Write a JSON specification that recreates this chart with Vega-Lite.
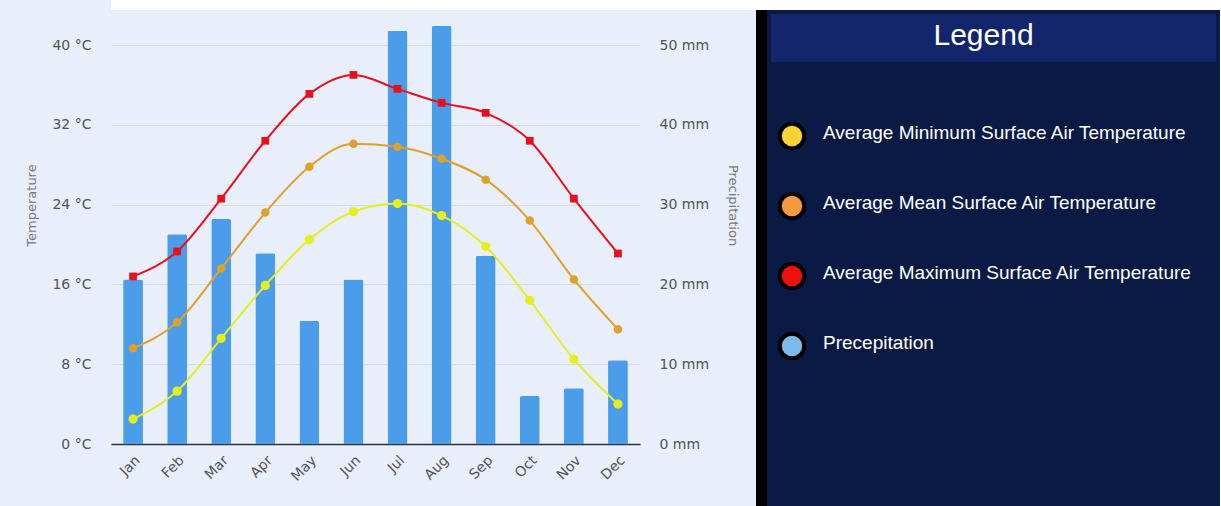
{
  "$schema": "https://vega.github.io/schema/vega-lite/v6.json",
  "background": "#e8eefa",
  "padding": {"left": 25, "top": 0, "right": 0, "bottom": 0},
  "config": {"view": {"stroke": null}, "font": "DejaVu Sans"},
  "datasets": {
    "precip": [
      {"m": "Jan", "mm": 20.6}, {"m": "Feb", "mm": 26.3}, {"m": "Mar", "mm": 28.2},
      {"m": "Apr", "mm": 23.9}, {"m": "May", "mm": 15.4}, {"m": "Jun", "mm": 20.6},
      {"m": "Jul", "mm": 51.8}, {"m": "Aug", "mm": 52.4}, {"m": "Sep", "mm": 23.6},
      {"m": "Oct", "mm": 6.0}, {"m": "Nov", "mm": 7.0}, {"m": "Dec", "mm": 10.5}
    ],
    "temps": [
      {"m": "Jan", "s": "Max", "t": 16.8}, {"m": "Feb", "s": "Max", "t": 19.3}, {"m": "Mar", "s": "Max", "t": 24.6},
      {"m": "Apr", "s": "Max", "t": 30.4}, {"m": "May", "s": "Max", "t": 35.1}, {"m": "Jun", "s": "Max", "t": 37.0},
      {"m": "Jul", "s": "Max", "t": 35.6}, {"m": "Aug", "s": "Max", "t": 34.2}, {"m": "Sep", "s": "Max", "t": 33.2},
      {"m": "Oct", "s": "Max", "t": 30.4}, {"m": "Nov", "s": "Max", "t": 24.6}, {"m": "Dec", "s": "Max", "t": 19.1},
      {"m": "Jan", "s": "Mean", "t": 9.6}, {"m": "Feb", "s": "Mean", "t": 12.2}, {"m": "Mar", "s": "Mean", "t": 17.6},
      {"m": "Apr", "s": "Mean", "t": 23.2}, {"m": "May", "s": "Mean", "t": 27.8}, {"m": "Jun", "s": "Mean", "t": 30.1},
      {"m": "Jul", "s": "Mean", "t": 29.8}, {"m": "Aug", "s": "Mean", "t": 28.6}, {"m": "Sep", "s": "Mean", "t": 26.5},
      {"m": "Oct", "s": "Mean", "t": 22.4}, {"m": "Nov", "s": "Mean", "t": 16.5}, {"m": "Dec", "s": "Mean", "t": 11.5},
      {"m": "Jan", "s": "Min", "t": 2.5}, {"m": "Feb", "s": "Min", "t": 5.3}, {"m": "Mar", "s": "Min", "t": 10.6},
      {"m": "Apr", "s": "Min", "t": 15.9}, {"m": "May", "s": "Min", "t": 20.5}, {"m": "Jun", "s": "Min", "t": 23.3},
      {"m": "Jul", "s": "Min", "t": 24.1}, {"m": "Aug", "s": "Min", "t": 22.9}, {"m": "Sep", "s": "Min", "t": 19.8},
      {"m": "Oct", "s": "Min", "t": 14.4}, {"m": "Nov", "s": "Min", "t": 8.5}, {"m": "Dec", "s": "Min", "t": 4.0}
    ],
    "legend": [
      {"series": "Average Minimum Surface Air Temperature"},
      {"series": "Average Mean Surface Air Temperature"},
      {"series": "Average Maximum Surface Air Temperature"},
      {"series": "Precepitation"}
    ]
  },
  "spacing": 0,
  "vconcat": [
    {
      "width": 1109,
      "height": 10,
      "data": {"values": [{}]},
      "mark": {"type": "rect", "color": "#ffffff"},
      "encoding": {}
    },
    {
      "spacing": 17,
      "hconcat": [
        {
          "width": 529,
          "height": 434,
          "layer": [
            {
              "data": {"name": "precip"},
              "mark": {"type": "bar", "color": "#4b9de9", "cornerRadiusTopLeft": 2, "cornerRadiusTopRight": 2},
              "encoding": {
                "x": {
                  "field": "m", "type": "nominal",
                  "sort": ["Jan","Feb","Mar","Apr","May","Jun","Jul","Aug","Sep","Oct","Nov","Dec"],
                  "scale": {"paddingInner": 0.55, "paddingOuter": 0.275},
                  "axis": {
                    "title": null, "labelAngle": -45, "labelFontSize": 14, "labelColor": "#555555",
                    "ticks": false, "tickSize": 0, "labelPadding": 9,
                    "domainColor": "#333333", "domainWidth": 1.5, "grid": false
                  }
                },
                "y": {
                  "field": "mm", "type": "quantitative",
                  "scale": {"domain": [0, 54.39], "nice": false},
                  "axis": {
                    "orient": "right", "title": "Precipitation", "values": [0, 10, 20, 30, 40, 50],
                    "labelExpr": "datum.value + ' mm'", "grid": false, "domain": false,
                    "ticks": false, "tickSize": 0, "labelPadding": 19, "labelFontSize": 14,
                    "labelColor": "#555555", "titleColor": "#777777", "titleFontSize": 13,
                    "titleFontWeight": "normal", "titlePadding": 17, "titleY": 195
                  }
                }
              }
            },
            {
              "data": {"name": "temps"},
              "encoding": {
                "x": {"field": "m", "type": "nominal", "sort": ["Jan","Feb","Mar","Apr","May","Jun","Jul","Aug","Sep","Oct","Nov","Dec"]},
                "y": {
                  "field": "t", "type": "quantitative",
                  "scale": {"domain": [0, 43.51], "nice": false},
                  "axis": {
                    "orient": "left", "title": "Temperature", "values": [0, 8, 16, 24, 32, 40],
                    "labelExpr": "datum.value + ' °C'", "grid": true, "gridColor": "#d5dbe6",
                    "domain": false, "ticks": false, "tickSize": 0, "labelPadding": 20, "labelFontSize": 14,
                    "labelColor": "#555555", "titleColor": "#777777", "titleFontSize": 13,
                    "titleFontWeight": "normal", "titlePadding": 13, "titleY": 195
                  }
                },
                "color": {
                  "field": "s", "type": "nominal",
                  "scale": {"domain": ["Min", "Mean", "Max"], "range": ["#e6ef1e", "#dfa02c", "#e8111b"]},
                  "legend": null
                }
              },
              "layer": [
                {"mark": {"type": "line", "interpolate": "monotone", "strokeWidth": 2}},
                {
                  "mark": {"type": "point", "filled": true, "opacity": 1},
                  "encoding": {
                    "shape": {"field": "s", "type": "nominal", "scale": {"domain": ["Min", "Mean", "Max"], "range": ["circle", "circle", "square"]}, "legend": null},
                    "size": {"field": "s", "type": "nominal", "scale": {"domain": ["Min", "Mean", "Max"], "range": [85, 60, 110]}, "legend": null}
                  }
                }
              ]
            }
          ],
          "resolve": {"scale": {"y": "independent"}}
        },
        {
          "spacing": 0,
          "hconcat": [
            {
              "width": 11,
              "height": 496,
              "data": {"values": [{}]},
              "mark": {"type": "rect", "color": "#000000"},
              "encoding": {}
            },
            {
              "spacing": 0,
              "vconcat": [
                {
                  "width": 453,
                  "height": 56,
                  "data": {"values": [{"t": "Legend"}]},
                  "layer": [
                    {
                      "mark": {"type": "rect", "fill": "#13266b", "stroke": "#0b1a45", "strokeWidth": 8, "clip": true},
                      "encoding": {}
                    },
                    {
                      "mark": {"type": "text", "color": "#ffffff", "fontSize": 30, "font": "Liberation Sans", "baseline": "middle", "dx": -10, "dy": -2},
                      "encoding": {"text": {"field": "t"}}
                    }
                  ]
                },
                {
                  "width": 453,
                  "height": 420,
                  "view": {"fill": "#0b1a45"},
                  "data": {"name": "legend"},
                  "encoding": {
                    "y": {
                      "field": "series", "type": "nominal",
                      "scale": {
                        "type": "band",
                        "domain": ["Average Minimum Surface Air Temperature", "Average Mean Surface Air Temperature", "Average Maximum Surface Air Temperature", "Precepitation"],
                        "paddingInner": 0, "paddingOuter": 1, "align": 0.25
                      },
                      "axis": null
                    },
                    "x": {"datum": "symbol", "type": "nominal", "scale": {"type": "point", "domain": ["symbol"], "align": 0.0552}, "axis": null}
                  },
                  "layer": [
                    {
                      "mark": {"type": "point", "filled": true, "opacity": 1, "stroke": "#000000", "strokeWidth": 4, "size": 600},
                      "encoding": {
                        "fill": {
                          "field": "series", "type": "nominal",
                          "scale": {
                            "domain": ["Average Minimum Surface Air Temperature", "Average Mean Surface Air Temperature", "Average Maximum Surface Air Temperature", "Precepitation"],
                            "range": ["#f6d233", "#f39a3e", "#f00f0f", "#7db9ea"]
                          },
                          "legend": null
                        }
                      }
                    },
                    {
                      "mark": {"type": "text", "align": "left", "baseline": "middle", "color": "#ffffff", "fontSize": 19, "font": "Liberation Sans", "dx": 31, "dy": -3},
                      "encoding": {
                        "text": {"field": "series"}
                      }
                    }
                  ]
                },
                {
                  "width": 453,
                  "height": 20,
                  "data": {"values": [{}]},
                  "mark": {"type": "rect", "color": "#0b1a45"},
                  "encoding": {}
                }
              ]
            }
          ]
        }
      ]
    }
  ]
}
